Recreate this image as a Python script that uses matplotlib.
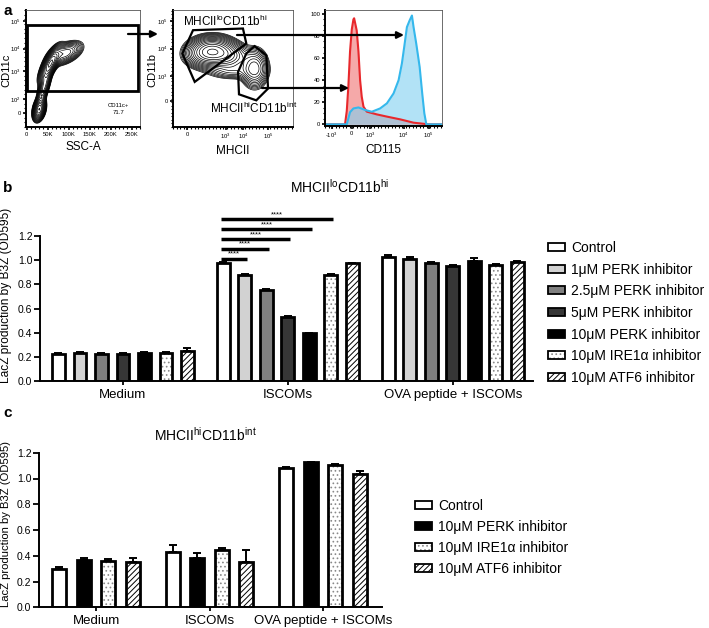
import numpy as np
import matplotlib
matplotlib.use("Agg")
import matplotlib.pyplot as plt
from matplotlib.patches import Patch, Rectangle, Polygon
from matplotlib.legend_handler import HandlerTuple
from matplotlib.ticker import MultipleLocator

plt.rcParams["font.family"] = ["Liberation Sans", "DejaVu Sans"]
plt.rcParams["mathtext.fontset"] = "custom"
plt.rcParams["mathtext.rm"] = "Liberation Sans"
plt.rcParams["mathtext.it"] = "Liberation Sans:italic"
plt.rcParams["hatch.linewidth"] = 0.7

W, H = 709, 628

# ---------------- panel a data (flow cytometry) ----------------
# density blobs: centre, spread, correlation, weight
ssc_x = [30, 42, 56, 92]
ssc_y = [15, 35, 54, 63]
ssc_sx = [7, 9, 12, 20]
ssc_sy = [4.5, 9, 7, 5]
ssc_r = [0.3, 0.75, 0.75, 0.5]
ssc_w = [1.0, 0.45, 1.0, 0.4]

mhc_x = [30, 42, 50, 68]
mhc_y = [64, 62, 48, 50]
mhc_sx = [9, 10, 12, 5.5]
mhc_sy = [6, 6, 4, 8]
mhc_r = [0.1, -0.2, 0.0, 0.0]
mhc_w = [1.0, 0.6, 0.12, 0.4]

gate_lo = [(16.7, 82.4), (58.3, 83.8), (61.1, 71), (18.1, 38.4), (7.8, 62.5)]
gate_hi = [(68, 68.8), (77.8, 61), (79.2, 32.7), (69.4, 22.7), (55, 27.8),
           (54.2, 46.9), (61.1, 62.5)]

# CD115 histograms (% of max)
red_x = [0, 17.1, 18.6, 20.0, 21.4, 22.9, 24.3, 24.9, 25.7, 27.1, 28.6, 30.0,
         31.4, 32.9, 35.7, 44.3, 52.9, 64.3, 75.7, 88.6, 100]
red_y = [0, 0, 12, 35, 66, 86, 95, 96, 92, 85, 66, 40, 25, 16, 11.5, 9, 7,
         4.5, 1.5, 0, 0]
blue_x = [0, 18.6, 21.4, 24.3, 28.6, 34.3, 40.0, 47.1, 52.9, 58.6, 62.9, 65.7,
          67.7, 70.0, 72.3, 74.3, 75.7, 78.0, 80.9, 83.1, 84.9, 86.6, 100]
blue_y = [0, 0, 11, 14.4, 15.3, 13, 11.4, 14.4, 19, 28, 40, 55, 70, 88, 94,
          98.5, 88, 73, 52, 28, 10, 0, 0]

# ---------------- panel b data ----------------
groups = ["Medium", "ISCOMs", "OVA peptide + ISCOMs"]
treat_b = ["Control", "1μM PERK inhibitor", "2.5μM PERK inhibitor",
           "5μM PERK inhibitor", "10μM PERK inhibitor",
           "10μM IRE1α inhibitor", "10μM ATF6 inhibitor"]
b_medium = [0.225, 0.23, 0.225, 0.225, 0.235, 0.23, 0.245]
b_medium_err = [0.01, 0.01, 0.01, 0.01, 0.008, 0.01, 0.03]
b_iscoms = [0.975, 0.875, 0.75, 0.53, 0.395, 0.88, 0.975]
b_iscoms_err = [0.008, 0.008, 0.012, 0.008, 0.005, 0.008, 0.005]
b_ova = [1.03, 1.01, 0.975, 0.95, 0.995, 0.96, 0.985]
b_ova_err = [0.012, 0.018, 0.008, 0.006, 0.022, 0.01, 0.008]
sig_pairs = [(0, 1), (0, 2), (0, 3), (0, 4), (0, 5)]
sig_labels = ["****", "****", "****", "****", "****"]

# ---------------- panel c data ----------------
treat_c = ["Control", "10μM PERK inhibitor", "10μM IRE1α inhibitor",
           "10μM ATF6 inhibitor"]
c_medium = [0.30, 0.37, 0.36, 0.355]
c_medium_err = [0.015, 0.015, 0.012, 0.03]
c_iscoms = [0.43, 0.38, 0.446, 0.355]
c_iscoms_err = [0.05, 0.045, 0.015, 0.09]
c_ova = [1.085, 1.125, 1.105, 1.035]
c_ova_err = [0.008, 0.006, 0.008, 0.025]

# treatment styles: facecolor, hatch, hatch colour
styles = {
    "Control": ("white", None, "k"),
    "1μM PERK inhibitor": ("#d2d2d2", None, "k"),
    "2.5μM PERK inhibitor": ("#808080", None, "k"),
    "5μM PERK inhibitor": ("#363636", None, "k"),
    "10μM PERK inhibitor": ("black", None, "k"),
    "10μM IRE1α inhibitor": ("white", "....", "#8a8a8a"),
    "10μM ATF6 inhibitor": ("white", "//////", "black"),
}


def ax_px(l, t, r, b):
    return fig.add_axes([l / W, 1 - b / H, (r - l) / W, (b - t) / H])


def density(x, y, cx, cy, sx, sy, rho, w):
    X, Y = np.meshgrid(x, y)
    Z = np.zeros_like(X)
    for a, b, s1, s2, r, ww in zip(cx, cy, sx, sy, rho, w):
        u = (X - a) / s1
        v = (Y - b) / s2
        Z += ww * np.exp(-(u * u - 2 * r * u * v + v * v) / (2 * (1 - r * r)))
    return X, Y, Z


def flow_axes(ax):
    for s in ["top", "right"]:
        ax.spines[s].set_linewidth(0.6)
        ax.spines[s].set_color("#555555")
    for s in ["left", "bottom"]:
        ax.spines[s].set_linewidth(1.4)
    ax.tick_params(which="major", labelsize=4.2, length=2.5, width=1.2, pad=1)
    ax.tick_params(which="minor", length=1.5, width=0.8)


def bar_panel(ax, centers, offsets, vals, errs, names, width):
    for ti, name in enumerate(names):
        fc, hatch, hc = styles[name]
        xs = np.array(centers) + offsets[ti]
        ys = [v[ti] for v in vals]
        es = [e[ti] for e in errs]
        ax.errorbar(xs, ys, yerr=[np.zeros(len(ys)), es], fmt="none", ecolor="k",
                    elinewidth=1.4, capsize=3, capthick=1.4, zorder=1)
        ax.bar(xs, ys, width, color=fc, edgecolor=hc, hatch=hatch, lw=0, zorder=2)
        ax.bar(xs, ys, width, facecolor="none", edgecolor="k", lw=2, zorder=3)
    for s in ["top", "right"]:
        ax.spines[s].set_visible(False)
    ax.spines["left"].set_linewidth(1.4)
    ax.spines["bottom"].set_linewidth(1.4)
    ax.spines["left"].set_bounds(0, 1.2)
    ax.set_yticks(np.arange(0, 1.21, 0.2))
    ax.set_yticklabels([f"{v:.1f}" for v in np.arange(0, 1.21, 0.2)])
    ax.tick_params(axis="y", labelsize=7.5, length=4, width=1.3, pad=1.5)
    ax.set_xticks(centers)
    ax.set_xticklabels(groups, fontsize=9.5)
    ax.tick_params(axis="x", length=3, width=1.3, pad=2.5)


def legend_handles(names):
    hs = []
    for name in names:
        fc, hatch, hc = styles[name]
        hs.append((Patch(facecolor=fc, edgecolor=hc, hatch=hatch, lw=0),
                   Patch(facecolor="none", edgecolor="k", lw=1.3)))
    return hs


fig = plt.figure(figsize=(W / 100, H / 100), dpi=100)

# ---- a1: CD11c vs SSC-A
a1 = ax_px(26, 10, 140, 127)
xg = np.linspace(-2, 270, 240)
yg = np.linspace(0, 100, 240)
X, Y, Z = density(xg, yg, ssc_x, ssc_y, ssc_sx, ssc_sy, ssc_r, ssc_w)
a1.contour(X, Y, Z, levels=np.geomspace(0.03, 0.93, 16) * Z.max(),
           colors="k", linewidths=0.5)
a1.add_patch(Rectangle((0, 30.6), 266, 56.4, fill=False, lw=2, ec="k"))
a1.text(218, 18.6, "CD11c+", fontsize=4.3, ha="center", va="center")
a1.text(218, 12.3, "71.7", fontsize=4.3, ha="center", va="center")
a1.set_xlim(-1.6, 270)
a1.set_ylim(0, 100)
a1.set_xticks([0, 50, 100, 150, 200, 250])
a1.set_xticklabels(["0", "50K", "100K", "150K", "200K", "250K"])
a1.set_yticks([12.3, 23.7, 47.7, 67, 90.6])
a1.set_yticklabels(["0", "10$^{2}$", "10$^{3}$", "10$^{4}$", "10$^{5}$"])
a1.xaxis.set_minor_locator(MultipleLocator(10))
a1.yaxis.set_minor_locator(MultipleLocator(4))
flow_axes(a1)
a1.set_xlabel("SSC-A", fontsize=8.5, labelpad=3)

# ---- a2: CD11b vs MHCII
a2 = ax_px(173, 9.5, 293, 127)
xg = np.linspace(0, 100, 240)
X, Y, Z = density(xg, xg, mhc_x, mhc_y, mhc_sx, mhc_sy, mhc_r, mhc_w)
a2.contour(X, Y, Z, levels=np.geomspace(0.02, 0.92, 16) * Z.max(),
           colors="k", linewidths=0.5)
a2.add_patch(Polygon(gate_lo, closed=True, fill=False, lw=1.6, ec="k"))
a2.add_patch(Polygon(gate_hi, closed=True, fill=False, lw=1.6, ec="k"))
a2.text(8.3, 89.5, r"MHCII$^{\mathrm{lo}}$CD11b$^{\mathrm{hi}}$", fontsize=8.5,
        va="center")
a2.text(30.5, 15.6, r"MHCII$^{\mathrm{hi}}$CD11b$^{\mathrm{int}}$", fontsize=8.5,
        va="center")
a2.set_xlim(0, 100)
a2.set_ylim(0, 100)
a2.set_xticks([11.9, 43.9, 58.3, 79.2])
a2.set_xticklabels(["0", "10$^{3}$", "10$^{4}$", "10$^{5}$"])
a2.set_yticks([22.2, 43.2, 66.8, 90.3])
a2.set_yticklabels(["0", "10$^{3}$", "10$^{4}$", "10$^{5}$"])
a2.xaxis.set_minor_locator(MultipleLocator(3))
a2.yaxis.set_minor_locator(MultipleLocator(3))
flow_axes(a2)
a2.set_xlabel("MHCII", fontsize=8.5, labelpad=3)

# ---- a3: CD115 histogram
a3 = ax_px(325, 10, 442, 126)
a3.fill_between(red_x, red_y, color="#e62828", alpha=0.4, lw=0)
a3.plot(red_x, red_y, color="#e8282c", lw=1.5)
a3.fill_between(blue_x, blue_y, color="#7fd0f0", alpha=0.6, lw=0)
a3.plot(blue_x, blue_y, color="#35b8ec", lw=1.5)
a3.set_xlim(0, 100)
a3.set_ylim(-1.5, 103.5)
a3.set_xticks([5.7, 22.9, 38.6, 67.1, 88.6])
a3.set_xticklabels(["-10$^{3}$", "0", "10$^{3}$", "10$^{4}$", "10$^{5}$"])
a3.set_yticks([0, 20, 40, 60, 80, 100])
a3.xaxis.set_minor_locator(MultipleLocator(3))
a3.yaxis.set_minor_locator(MultipleLocator(5))
flow_axes(a3)
a3.set_xlabel("CD115", fontsize=8.5, labelpad=3)

# ---- b
ax_b = ax_px(40, 205.8, 533, 381)
gap_b = 7.67
centers_b = [0, gap_b, 2 * gap_b]
offsets_b = [-3, -2, -1, 0, 1, 2, 3]
bar_panel(ax_b, centers_b, offsets_b, [b_medium, b_iscoms, b_ova],
          [b_medium_err, b_iscoms_err, b_ova_err], treat_b, 0.6)
ax_b.set_xlim(-3.86, 19.07)
ax_b.set_ylim(0, 1.45)
for k, ((i, j), lab) in enumerate(zip(sig_pairs, sig_labels)):
    x1 = centers_b[1] + offsets_b[i] - 0.1
    x2 = centers_b[1] + offsets_b[j] + 0.1
    yl = 1.01 + 0.082 * k
    ax_b.plot([x1, x2], [yl, yl], color="k", lw=2.5, solid_capstyle="butt",
              clip_on=False)
    ax_b.text((x1 + x2) / 2, yl + 0.01, lab, fontsize=5.5, ha="center",
              va="bottom")
hmap = {tuple: HandlerTuple(ndivide=1, pad=0)}
fig.legend(legend_handles(treat_b), treat_b, loc="upper left",
           bbox_to_anchor=(548 / W, 1 - 241 / H), bbox_transform=fig.transFigure,
           frameon=False, fontsize=10, handlelength=1.25, handleheight=0.5,
           handletextpad=0.4, labelspacing=0.55, borderpad=0, borderaxespad=0,
           handler_map=hmap)

# ---- c
ax_c = ax_px(39, 446.3, 382, 607.3)
gap_c = 4.63
centers_c = [0, gap_c, 2 * gap_c]
offsets_c = [-1.5, -0.5, 0.5, 1.5]
bar_panel(ax_c, centers_c, offsets_c, [c_medium, c_iscoms, c_ova],
          [c_medium_err, c_iscoms_err, c_ova_err], treat_c, 0.57)
ax_c.set_xlim(-2.33, 11.67)
ax_c.set_ylim(0, 1.25)
fig.legend(legend_handles(treat_c), treat_c, loc="upper left",
           bbox_to_anchor=(415 / W, 1 - 499 / H), bbox_transform=fig.transFigure,
           frameon=False, fontsize=10, handlelength=1.25, handleheight=0.5,
           handletextpad=0.4, labelspacing=0.5, borderpad=0, borderaxespad=0,
           handler_map=hmap)

# ---- overlay: arrows, panel letters, titles, axis labels
ov = fig.add_axes([0, 0, 1, 1], zorder=10)
ov.set_xlim(0, W)
ov.set_ylim(H, 0)
ov.axis("off")
arrow = dict(arrowstyle="-|>", lw=1.6, color="k", mutation_scale=10,
             shrinkA=0, shrinkB=0)
ov.annotate("", xy=(158, 34), xytext=(128, 34), arrowprops=arrow)
ov.annotate("", xy=(404, 35), xytext=(237, 35), arrowprops=arrow)
ov.annotate("", xy=(349, 88), xytext=(262, 88), arrowprops=arrow)

ov.text(3, 11, "a", fontsize=11, fontweight="bold", va="center")
ov.text(3, 188, "b", fontsize=11, fontweight="bold", va="center")
ov.text(3, 413, "c", fontsize=11, fontweight="bold", va="center")
ov.text(6, 70, "CD11c", fontsize=8, rotation=90, ha="center", va="center")
ov.text(152, 70, "CD11b", fontsize=8, rotation=90, ha="center", va="center")
ov.text(340, 187, r"MHCII$^{\mathrm{lo}}$CD11b$^{\mathrm{hi}}$", fontsize=10,
        ha="center", va="center")
ov.text(205, 435, r"MHCII$^{\mathrm{hi}}$CD11b$^{\mathrm{int}}$", fontsize=10,
        ha="center", va="center")
ov.text(6, 295, "LacZ production by B3Z (OD595)", fontsize=8.6, rotation=90,
        ha="center", va="center")
ov.text(6, 524, "LacZ production by B3Z (OD595)", fontsize=8.1, rotation=90,
        ha="center", va="center")

fig.savefig("out.png", dpi=100)
